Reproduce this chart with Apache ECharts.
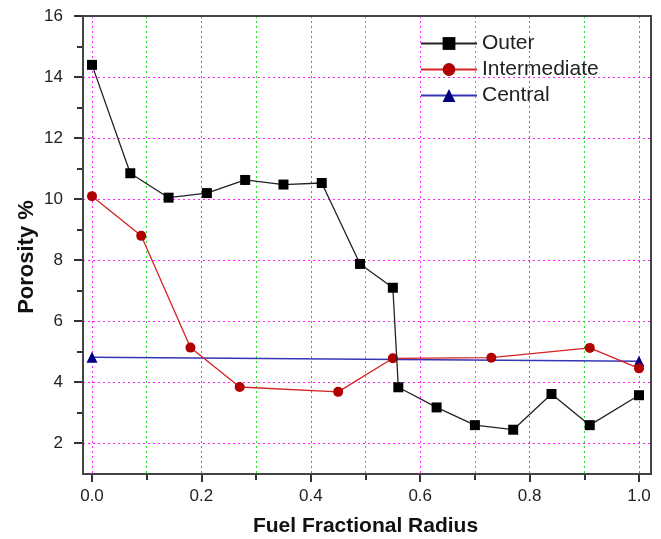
<!DOCTYPE html>
<html>
<head>
<meta charset="utf-8">
<script src="https://cdn.jsdelivr.net/npm/echarts@6/dist/echarts.min.js"></script>
<style>
  html, body { margin: 0; padding: 0; background: #fff; }
  #chart { width: 661px; height: 539px; }
</style>
</head>
<body>
<div id="chart"></div>
<script>
// values
var outerX = [0, 0.07, 0.14, 0.21, 0.28, 0.35, 0.42, 0.49, 0.55, 0.56, 0.63, 0.70, 0.77, 0.84, 0.91, 1.0];
var outerY = [14.4, 10.85, 10.05, 10.2, 10.63, 10.48, 10.53, 7.88, 7.1, 3.84, 3.18, 2.6, 2.45, 3.62, 2.6, 3.58];

var interX = [0, 0.09, 0.18, 0.27, 0.45, 0.55, 0.73, 0.91, 1.0];
var interY = [10.1, 8.8, 5.14, 3.85, 3.69, 4.79, 4.81, 5.13, 4.46];

var centralX = [0, 1.0];
var centralY = [4.82, 4.69];

var seriesNames = ["Outer", "Intermediate", "Central"];

function pairs(xs, ys) {
  return xs.map(function (x, i) { return [x, ys[i]]; });
}

var font = "Liberation Sans, Arial, sans-serif";
var tickStyle = { color: "#333", width: 2 };
var pinkGrid = { color: "#ff22ff", width: 1, type: [2, 3] };
var greenGrid = { color: "#22e022", width: 1, type: [2, 3] };

var myChart = echarts.init(document.getElementById("chart"));

var option = {
  animation: false,
  backgroundColor: "#fff",
  grid: [
    // data + x ticks
    { left: 92, right: 22, top: 16, bottom: 65, outerBoundsMode: "none" },
    // y ticks, 2..16
    { left: 83, right: 10, top: 16, bottom: 96, outerBoundsMode: "none" },
    // frame
    { left: 83, right: 10, top: 16, bottom: 65, z: 5, outerBoundsMode: "none", show: true, borderColor: "#444", borderWidth: 2, backgroundColor: "transparent" }
  ],
  legend: {
    data: seriesNames,
    orient: "vertical",
    left: 415,
    top: 28,
    itemWidth: 56,
    itemHeight: 16,
    itemGap: 5,
    textStyle: { fontFamily: font, fontSize: 21, color: "#222" }
  },
  xAxis: [
    {
      gridIndex: 0,
      type: "value",
      min: 0,
      max: 1,
      interval: 0.2,
      axisLine: { show: false },
      axisTick: { show: true, length: 8, lineStyle: tickStyle },
      minorTick: { show: true, splitNumber: 2, length: 6, lineStyle: tickStyle },
      axisLabel: {
        fontFamily: font, fontSize: 17, color: "#222", margin: 14,
        formatter: function (v) { return v.toFixed(1); }
      },
      splitLine: { show: true, lineStyle: pinkGrid },
      minorSplitLine: { show: true, lineStyle: greenGrid },
      name: "Fuel Fractional Radius",
      nameLocation: "middle",
      nameGap: 42,
      nameTextStyle: { fontFamily: font, fontSize: 21, fontWeight: "bold", color: "#111" }
    },
    { gridIndex: 1, type: "value", min: 0, max: 1, show: false },
    { gridIndex: 2, type: "value", min: 0, max: 1, show: false }
  ],
  yAxis: [
    {
      gridIndex: 0,
      type: "value",
      min: 1,
      max: 16,
      axisLine: { show: false },
      axisTick: { show: false },
      axisLabel: { show: false },
      splitLine: { show: false },
      name: "Porosity %",
      nameLocation: "middle",
      nameGap: 54,
      nameTextStyle: { fontFamily: font, fontSize: 22, fontWeight: "bold", color: "#111", padding: [0, 24, 0, 0] }
    },
    {
      gridIndex: 1,
      type: "value",
      min: 2,
      max: 16,
      interval: 2,
      axisLine: { show: false },
      axisTick: { show: true, length: 9, lineStyle: tickStyle },
      minorTick: { show: true, splitNumber: 2, length: 6, lineStyle: tickStyle },
      axisLabel: { fontFamily: font, fontSize: 17, color: "#222", margin: 20 },
      splitLine: { show: true, lineStyle: pinkGrid }
    },
    { gridIndex: 2, type: "value", min: 1, max: 16, show: false }
  ],
  series: [
    {
      name: "Outer",
      type: "line",
      xAxisIndex: 0,
      yAxisIndex: 0,
      clip: false,
      z: 4,
      symbol: "rect",
      symbolSize: 10,
      showSymbol: true,
      itemStyle: { color: "#000" },
      lineStyle: { color: "#222", width: 1.3 },
      data: pairs(outerX, outerY)
    },
    {
      name: "Intermediate",
      type: "line",
      xAxisIndex: 0,
      yAxisIndex: 0,
      clip: false,
      z: 3,
      symbol: "circle",
      symbolSize: 10,
      showSymbol: true,
      itemStyle: { color: "#b00000" },
      lineStyle: { color: "#d42222", width: 1.3 },
      data: pairs(interX, interY)
    },
    {
      name: "Central",
      type: "line",
      xAxisIndex: 0,
      yAxisIndex: 0,
      clip: false,
      z: 2,
      symbol: "triangle",
      symbolSize: 11,
      showSymbol: true,
      itemStyle: { color: "#000080" },
      lineStyle: { color: "#3535b5", width: 1.5 },
      data: pairs(centralX, centralY)
    }
  ]
};

myChart.setOption(option);
</script>
</body>
</html>
